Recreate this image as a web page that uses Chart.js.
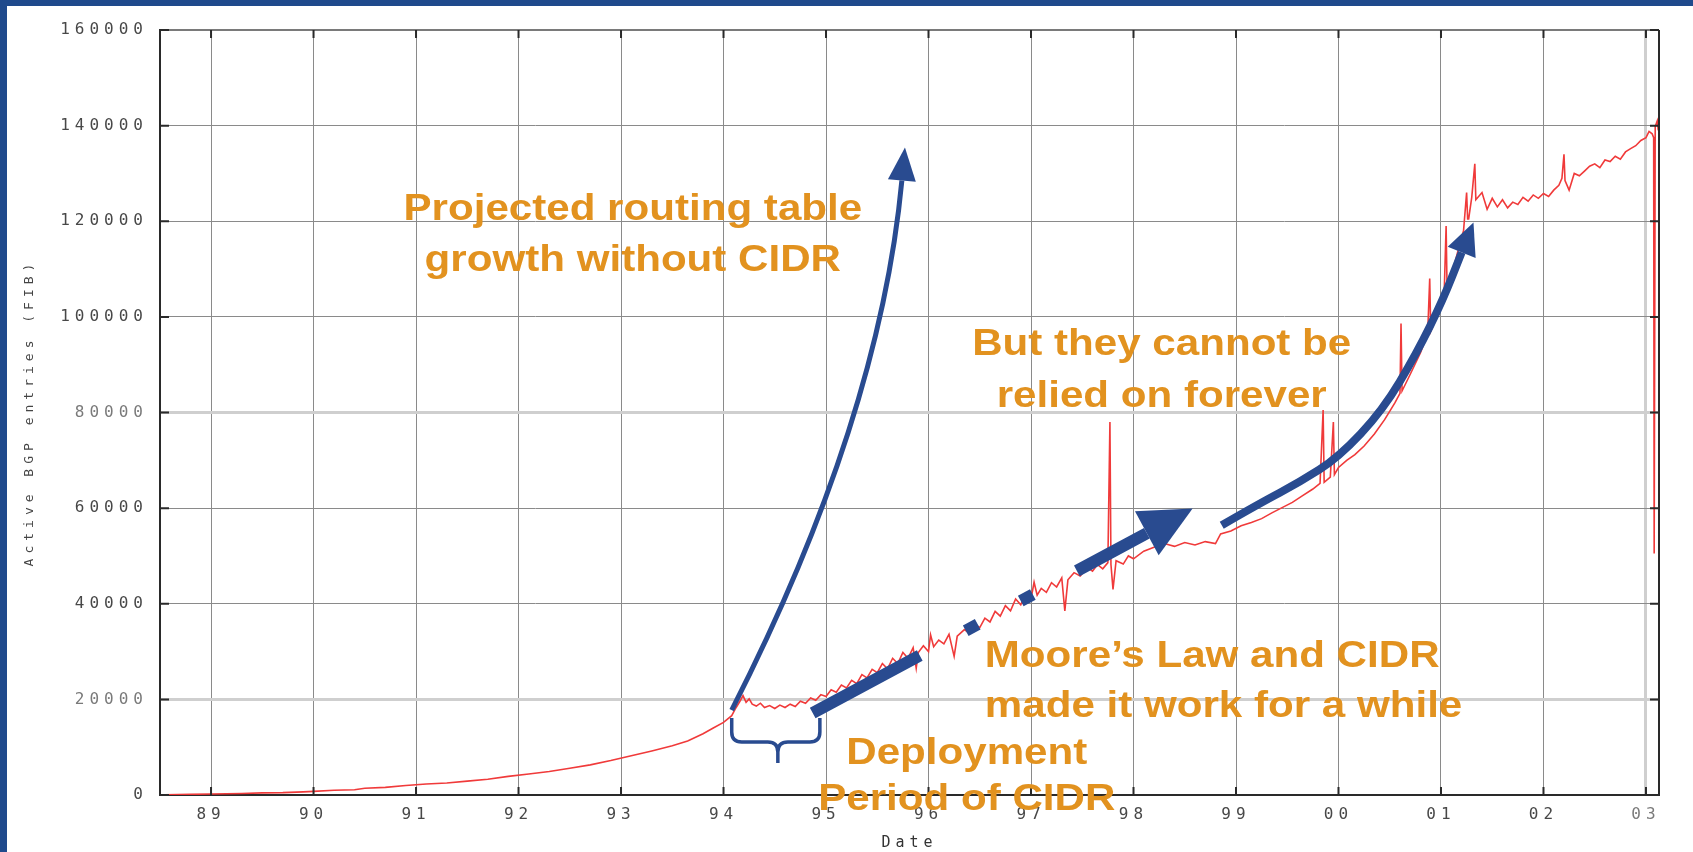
<!DOCTYPE html>
<html>
<head>
<meta charset="utf-8">
<script src="https://cdn.jsdelivr.net/npm/chart.js@4.4.1/dist/chart.umd.min.js"></script>
<style>
  html, body { margin: 0; padding: 0; background: #ffffff; }
  #c { display: block; }
</style>
</head>
<body>
<canvas id="c" width="1693" height="852"></canvas>
<script>
// ---------------- data ----------------
const bgpDates = [
  1988.55, 1988.8, 1989.0, 1989.3, 1989.5, 1989.7, 1989.9, 1990.0, 1990.2, 1990.4,
  1990.5, 1990.7, 1990.9, 1991.1, 1991.3, 1991.5, 1991.7, 1991.9, 1992.1, 1992.3,
  1992.5, 1992.7, 1992.9, 1993.1, 1993.3, 1993.5, 1993.65, 1993.8, 1993.9, 1994.0,
  1994.08, 1994.12, 1994.16, 1994.19, 1994.22, 1994.25, 1994.28, 1994.32, 1994.36, 1994.40,
  1994.45, 1994.50, 1994.55, 1994.60, 1994.65, 1994.70, 1994.75, 1994.80, 1994.85, 1994.90,
  1994.95, 1995.00, 1995.05, 1995.10, 1995.15, 1995.20, 1995.25, 1995.30, 1995.35, 1995.40,
  1995.45, 1995.50, 1995.55, 1995.60, 1995.65, 1995.70, 1995.75, 1995.80, 1995.85, 1995.88,
  1995.90, 1995.95, 1996.00, 1996.02, 1996.05, 1996.10, 1996.15, 1996.20, 1996.25, 1996.28,
  1996.35, 1996.40, 1996.45, 1996.50, 1996.55, 1996.60, 1996.65, 1996.70, 1996.75, 1996.80,
  1996.85, 1996.90, 1996.95, 1997.00, 1997.03, 1997.06, 1997.10, 1997.15, 1997.20, 1997.25,
  1997.30, 1997.33, 1997.36, 1997.42, 1997.48, 1997.55, 1997.60, 1997.65, 1997.70, 1997.75,
  1997.77, 1997.78, 1997.80, 1997.83, 1997.90, 1997.95, 1998.00, 1998.10, 1998.20, 1998.30,
  1998.40, 1998.50, 1998.60, 1998.70, 1998.80, 1998.85, 1998.95, 1999.05, 1999.15, 1999.25,
  1999.35, 1999.45, 1999.55, 1999.65, 1999.75, 1999.82, 1999.85, 1999.86, 1999.92, 1999.95,
  1999.96, 2000.00, 2000.08, 2000.16, 2000.25, 2000.35, 2000.45, 2000.55, 2000.60, 2000.61,
  2000.62, 2000.70, 2000.80, 2000.87, 2000.89, 2000.90, 2000.97, 2001.03, 2001.05, 2001.06,
  2001.12, 2001.18, 2001.22, 2001.25, 2001.26, 2001.27, 2001.30, 2001.33, 2001.34, 2001.40,
  2001.45, 2001.50, 2001.55, 2001.60, 2001.65, 2001.70, 2001.75, 2001.80, 2001.85, 2001.90,
  2001.95, 2002.00, 2002.05, 2002.10, 2002.15, 2002.18, 2002.20, 2002.21, 2002.25, 2002.30,
  2002.35, 2002.40, 2002.45, 2002.50, 2002.55, 2002.60, 2002.65, 2002.70, 2002.75, 2002.80,
  2002.85, 2002.90, 2002.95, 2003.00, 2003.03, 2003.06, 2003.075, 2003.08, 2003.09, 2003.11,
  2003.12
];
const bgpEntries = [
  50, 150, 200, 300, 450, 500, 650, 750, 1000, 1100,
  1400, 1600, 2000, 2300, 2500, 2900, 3300, 3900, 4400, 4900,
  5600, 6300, 7200, 8200, 9200, 10300, 11300, 12800, 14000, 15200,
  16600, 18200, 19600, 20800, 19400, 20100, 19000, 18600, 19200, 18300,
  18700, 18100, 18800, 18300, 19000, 18500, 19600, 19200, 20300, 19800,
  21000, 20600, 22000, 21500, 23000, 22400, 24000, 23300, 25200, 24500,
  26300, 25600, 27500, 26400, 28600, 27500, 29800, 28600, 30800, 26500,
  29800, 31200, 30000, 33500, 31000, 32400, 31600, 33600, 29000, 33200,
  34600, 33800, 35800, 35000, 37000, 36200, 38400, 37400, 39600, 38500,
  41000, 39800, 42200, 41000, 44500, 41800, 43200, 42400, 44400, 43500,
  45400, 38500, 45000, 46500, 45800, 47600, 46800, 48200, 47300, 48600,
  78000, 48200, 43000, 49000, 48300, 50000, 49400, 51000, 51800, 52600,
  52000, 52800, 52300, 53000, 52600, 54600, 55200, 56300, 57000, 57800,
  59000, 60100, 61200, 62600, 64000, 65200, 80500, 65400, 66500, 78000,
  67000, 68500, 70000, 71200, 73000, 75500, 78500, 82000, 84000, 98600,
  84500, 88000, 92500, 96500, 108000, 97000, 100500, 104000, 119000, 104800,
  110000, 115000, 118000, 126000, 120500, 120500, 125000, 132000, 124500, 126000,
  122500, 124800, 123000, 124500, 122800, 124000, 123500, 125000, 124200, 125500,
  124800, 125800, 125200, 126500, 127500, 129000, 134000, 128500, 126500, 130000,
  129500, 130500, 131500, 132000, 131200, 132800, 132500, 133600, 133000, 134500,
  135200, 135800, 136900, 137500, 138800, 138300, 137500, 50500, 139800, 141000,
  139000
];
const xTickYears  = [1989, 1990, 1991, 1992, 1993, 1994, 1995, 1996, 1997, 1998, 1999, 2000, 2001, 2002, 2003];
const xTickLabels = ['89', '90', '91', '92', '93', '94', '95', '96', '97', '98', '99', '00', '01', '02', '03'];
const yTickValues = [0, 20000, 40000, 60000, 80000, 100000, 120000, 140000, 160000];

// ---------------- annotations (in data coordinates) ----------------
const projectedArrow = [[1994.08, 17770], [1995.52, 78375], [1995.74, 128535]]; // start, control, end
const mooreArrow     = [[1994.87, 17138], [1998.13, 54758]];
const foreverArrow   = [[1998.861, 56430], [1999.232, 61030], [1999.622, 65420], [2000.002, 70640],
                        [2000.432, 80470], [2000.763, 92380], [2001.017, 103450], [2001.202, 113490]];
const braceXs = [1994.08, 1994.53, 1994.94];
const braceYs = [16090, 11080, 6690];
const noteTexts = [
  { text: 'Projected routing table', at: [1993.115, 120175], align: 'center' },
  { text: 'growth without CIDR',     at: [1993.115, 109516], align: 'center' },
  { text: 'But they cannot be',      at: [1998.275, 91960],  align: 'center' },
  { text: 'relied on forever',       at: [1998.275, 81092],  align: 'center' },
  { text: 'Moore\u2019s Law and CIDR',     at: [1996.549, 26752], align: 'left' },
  { text: 'made it work for a while',      at: [1996.549, 16302], align: 'left' },
  { text: 'Deployment',              at: [1996.373, 6479],   align: 'center' },
  { text: 'Period of CIDR',          at: [1996.373, -3135],  align: 'center' }
];

const BLUE = '#294b90';
const ORANGE = '#e2921f';
const FRAME = '#2a2a2a';

function unit(dx, dy) { const l = Math.hypot(dx, dy) || 1; return [dx / l, dy / l]; }
function arrowHead(ctx, bx, by, ux, uy, len, hw) {
  const tx = bx + ux * len, ty = by + uy * len;
  const px = -uy, py = ux;
  ctx.beginPath();
  ctx.moveTo(tx, ty);
  ctx.lineTo(bx + px * hw, by + py * hw);
  ctx.lineTo(bx - px * hw, by - py * hw);
  ctx.closePath();
  ctx.fill();
}

const spacingPlugin = {
  id: 'spacing',
  beforeUpdate(chart) { chart.ctx.letterSpacing = '5px'; },
  beforeDraw(chart) { chart.ctx.letterSpacing = '5px'; }
};

const annotPlugin = {
  id: 'annot',
  afterDatasetsDraw(chart) {
    const ctx = chart.ctx, xs = chart.scales.x, ys = chart.scales.y, a = chart.chartArea;
    const P = p => [xs.getPixelForValue(p[0]), ys.getPixelForValue(p[1])];
    ctx.save();
    // frame: top/right borders and inward ticks
    ctx.strokeStyle = FRAME; ctx.lineWidth = 2;
    ctx.beginPath();
    ctx.moveTo(a.right, a.top); ctx.lineTo(a.right, a.bottom);
    ctx.stroke();
    ctx.strokeStyle = '#7a7a7a';
    ctx.beginPath(); ctx.moveTo(a.left, a.top); ctx.lineTo(a.right, a.top); ctx.stroke();
    ctx.strokeStyle = FRAME; ctx.lineWidth = 2;
    ctx.beginPath();
    xTickYears.forEach(v => {
      const x = xs.getPixelForValue(v);
      ctx.moveTo(x, a.bottom); ctx.lineTo(x, a.bottom - 8);
      ctx.moveTo(x, a.top); ctx.lineTo(x, a.top + 8);
    });
    yTickValues.forEach(v => {
      const y = ys.getPixelForValue(v);
      ctx.moveTo(a.left, y); ctx.lineTo(a.left + 9, y);
      ctx.moveTo(a.right, y); ctx.lineTo(a.right - 9, y);
    });
    ctx.stroke();

    ctx.strokeStyle = BLUE; ctx.fillStyle = BLUE;
    ctx.lineCap = 'butt'; ctx.lineJoin = 'round';

    // projected growth curve
    {
      const [p0, c, p2] = projectedArrow.map(P);
      ctx.lineWidth = 5;
      ctx.beginPath(); ctx.moveTo(p0[0], p0[1]);
      ctx.quadraticCurveTo(c[0], c[1], p2[0], p2[1]);
      ctx.stroke();
      const [ux, uy] = unit(p2[0] - c[0], p2[1] - c[1]);
      arrowHead(ctx, p2[0], p2[1], ux, uy, 33, 14);
    }
    // Moore's law dashed thick arrow
    {
      const [s, e] = mooreArrow.map(P);
      ctx.lineWidth = 12;
      ctx.setLineDash([121.6, 52.2, 13.6, 48.9, 13.7, 50, 90, 1000]);
      ctx.beginPath(); ctx.moveTo(s[0], s[1]); ctx.lineTo(e[0], e[1]); ctx.stroke();
      ctx.setLineDash([]);
      const [ux, uy] = unit(e[0] - s[0], e[1] - s[1]);
      arrowHead(ctx, e[0], e[1], ux, uy, 52, 25);
    }
    // "forever" curve
    {
      const pts = foreverArrow.map(P);
      ctx.lineWidth = 8;
      ctx.beginPath(); ctx.moveTo(pts[0][0], pts[0][1]);
      for (let i = 1; i < pts.length - 1; i++) {
        const mx = (pts[i][0] + pts[i + 1][0]) / 2, my = (pts[i][1] + pts[i + 1][1]) / 2;
        ctx.quadraticCurveTo(pts[i][0], pts[i][1], mx, my);
      }
      const last = pts[pts.length - 1], prev = pts[pts.length - 2];
      ctx.lineTo(last[0], last[1]);
      ctx.stroke();
      const [ux, uy] = unit(last[0] - prev[0], last[1] - prev[1]);
      arrowHead(ctx, last[0], last[1], ux, uy, 32, 15);
    }
    // brace
    {
      const L = xs.getPixelForValue(braceXs[0]), M = xs.getPixelForValue(braceXs[1]), R = xs.getPixelForValue(braceXs[2]);
      const T = ys.getPixelForValue(braceYs[0]), B = ys.getPixelForValue(braceYs[1]), TIP = ys.getPixelForValue(braceYs[2]);
      const r = 10;
      ctx.lineWidth = 3.5;
      ctx.beginPath();
      ctx.moveTo(L, T); ctx.lineTo(L, B - r); ctx.quadraticCurveTo(L, B, L + r, B);
      ctx.lineTo(M - r, B); ctx.quadraticCurveTo(M, B, M, B + r); ctx.lineTo(M, TIP);
      ctx.moveTo(M, B + r); ctx.quadraticCurveTo(M, B, M + r, B);
      ctx.lineTo(R - r, B); ctx.quadraticCurveTo(R, B, R, B - r); ctx.lineTo(R, T);
      ctx.stroke();
    }
    ctx.restore();
  },
  afterDraw(chart) {
    const ctx = chart.ctx, xs = chart.scales.x, ys = chart.scales.y;
    ctx.save();
    ctx.letterSpacing = '0px';
    ctx.fillStyle = ORANGE;
    ctx.font = 'bold 36px "Liberation Sans", Arial, sans-serif';
    ctx.textBaseline = 'alphabetic';
    noteTexts.forEach(n => {
      const x = xs.getPixelForValue(n.at[0]), y = ys.getPixelForValue(n.at[1]);
      ctx.save();
      ctx.translate(x, y);
      ctx.scale(1.17, 1);
      ctx.textAlign = n.align;
      ctx.fillText(n.text, 0, 0);
      ctx.restore();
    });
    // slide frame (blue bars left and top)
    ctx.fillStyle = '#1f4a8c';
    ctx.fillRect(0, 0, 7, chart.height);
    ctx.fillRect(0, 0, chart.width, 6);
    ctx.restore();
  }
};

const lightGrid = v => v === 20000 || v === 80000 || v === 2003;
const gridColor = c => (c.tick && lightGrid(c.tick.value)) ? '#cfcfcf' : '#8a8a8a';
const gridWidth = c => (c.tick && lightGrid(c.tick.value)) ? 3 : 1;
const tickColor = c => (c.tick && lightGrid(c.tick.value)) ? '#7a7a7a' : '#484848';

new Chart(document.getElementById('c'), {
  type: 'line',
  data: {
    datasets: [{
      data: bgpDates.map((d, i) => ({ x: d, y: bgpEntries[i] })),
      borderColor: '#f03a3a',
      borderWidth: 1.6,
      pointRadius: 0,
      tension: 0,
      fill: false
    }]
  },
  options: {
    responsive: false,
    animation: false,
    devicePixelRatio: 1,
    events: [],
    plugins: { legend: { display: false }, tooltip: { enabled: false } },
    layout: { padding: { top: 30, right: 34, left: 0, bottom: 0 } },
    scales: {
      x: {
        type: 'linear',
        min: 1988.502,
        max: 2003.127,
        afterBuildTicks: s => { s.ticks = xTickYears.map(v => ({ value: v })); },
        afterFit: s => { s.height = 57; },
        ticks: {
          autoSkip: false, maxRotation: 0, padding: 10,
          callback: (v, i) => xTickLabels[i],
          font: { family: '"DejaVu Sans Mono", monospace', size: 16 },
          color: tickColor
        },
        grid: { color: gridColor, lineWidth: gridWidth, drawTicks: false },
        border: { color: FRAME, width: 2 },
        title: {
          display: true, text: 'Date', padding: { top: 0, bottom: 0 },
          font: { family: '"DejaVu Sans Mono", monospace', size: 15 }, color: '#333333'
        }
      },
      y: {
        type: 'linear',
        min: 0,
        max: 160000,
        afterBuildTicks: s => { s.ticks = yTickValues.map(v => ({ value: v })); },
        afterFit: s => { s.width = 160; },
        ticks: {
          padding: 12,
          callback: v => String(v),
          font: { family: '"DejaVu Sans Mono", monospace', size: 16 },
          color: tickColor
        },
        grid: { color: gridColor, lineWidth: gridWidth, drawTicks: false },
        border: { color: FRAME, width: 2 },
        title: {
          display: true, text: 'Active BGP entries (FIB)', padding: { top: 22, bottom: 0 },
          font: { family: '"DejaVu Sans Mono", monospace', size: 13 }, color: '#444444'
        }
      }
    }
  },
  plugins: [spacingPlugin, annotPlugin]
});
</script>
</body>
</html>
